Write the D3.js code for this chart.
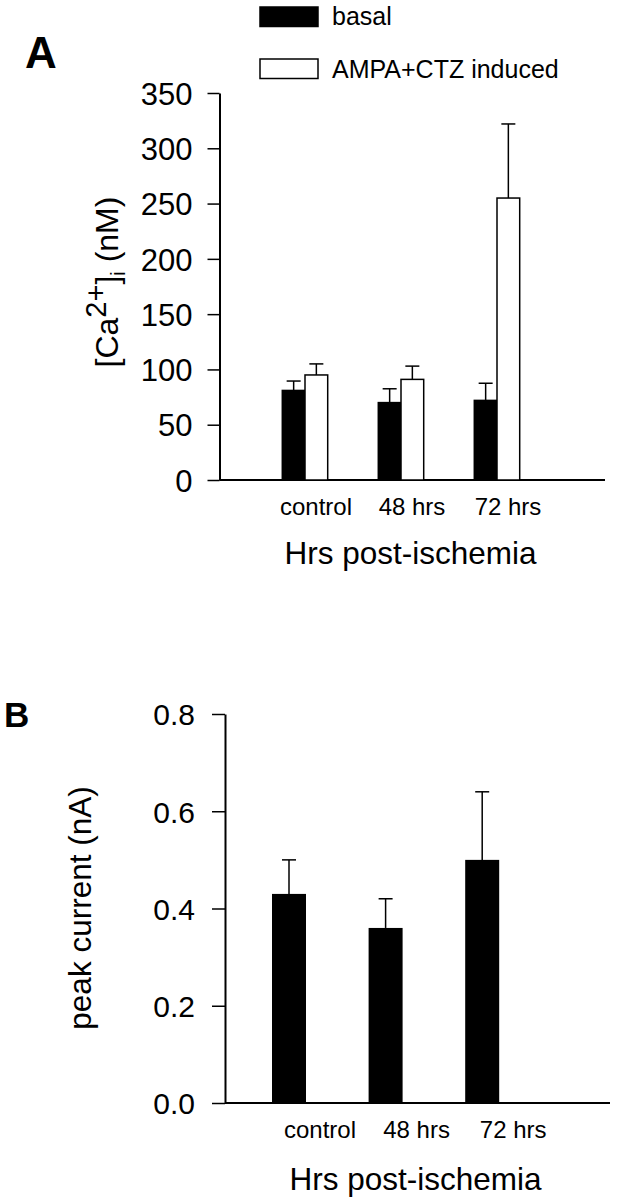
<!DOCTYPE html>
<html><head><meta charset="utf-8">
<script src="https://cdn.jsdelivr.net/npm/d3@7"></script>
<style>
html,body{margin:0;padding:0;background:#fff;}
svg{display:block;font-family:"Liberation Sans",Arial,sans-serif;}
</style></head>
<body>
<svg id="c" width="621" height="1199"></svg>
<script>
// ---- data ----
const categories = ["control", "48 hrs", "72 hrs"];
const seriesA = ["basal", "AMPA+CTZ induced"];
const basalA = [81, 70, 72];
const basalErrA = [89.5, 82.5, 87.5];
const inducedA = [95, 91, 255];
const inducedErrA = [105, 103, 322];
const ticksA = [0, 50, 100, 150, 200, 250, 300, 350];

const peakB = [0.43, 0.36, 0.50];
const peakErrB = [0.50, 0.42, 0.64];
const ticksB = [0.0, 0.2, 0.4, 0.6, 0.8];

const svg = d3.select("#c");
const F = '"Liberation Sans", Arial, sans-serif';

// ---- Panel A ----
const gA = svg.append("g");
const yA = d3.scaleLinear().domain([0, 350]).range([480, 93]);
const xA = d3.scaleBand().domain(categories).range([257, 545]);
const subA = d3.scaleBand().domain(seriesA).range([0, 45.4]);
const offA = (xA.bandwidth() - 45.4) / 2;

const axA = gA.append("g").attr("transform", "translate(219.5,0)")
  .call(d3.axisLeft(yA).tickValues(ticksA).tickSize(12).tickSizeOuter(0).tickPadding(15).tickFormat(d3.format("d")));
axA.select(".domain").attr("stroke", "#000").attr("stroke-width", 2);
axA.selectAll(".tick line").attr("stroke", "#000").attr("stroke-width", 1.5);
axA.selectAll(".tick text").attr("font-size", 31).attr("font-family", F).attr("fill", "#000").attr("dy", "0.36em");

gA.append("line").attr("x1", 219.5).attr("x2", 605).attr("y1", yA(0)).attr("y2", yA(0))
  .attr("stroke", "#000").attr("stroke-width", 2);

const rowsA = categories.map((c, i) => ({c, vals: [
  {s: seriesA[0], v: basalA[i], e: basalErrA[i], fill: "#000"},
  {s: seriesA[1], v: inducedA[i], e: inducedErrA[i], fill: "#fff"}]}));

rowsA.forEach(r => {
  r.vals.forEach(d => {
    const x0 = xA(r.c) + offA + subA(d.s);
    const w = subA.bandwidth();
    const cx = x0 + w / 2;
    gA.append("line").attr("x1", cx).attr("x2", cx).attr("y1", yA(d.v)).attr("y2", yA(d.e))
      .attr("stroke", "#000").attr("stroke-width", 1.5);
    gA.append("line").attr("x1", cx - 7).attr("x2", cx + 7).attr("y1", yA(d.e)).attr("y2", yA(d.e))
      .attr("stroke", "#000").attr("stroke-width", 1.5);
    gA.append("rect").attr("x", x0).attr("y", yA(d.v)).attr("width", w).attr("height", yA(0) - yA(d.v))
      .attr("fill", d.fill).attr("stroke", "#000").attr("stroke-width", 1.5);
  });
});

gA.selectAll("text.cat").data(categories).enter().append("text")
  .attr("x", d => xA(d) + xA.bandwidth() / 2 + 11).attr("y", 515)
  .attr("text-anchor", "middle").attr("font-size", 24).attr("font-family", F).text(d => d);

gA.append("text").attr("x", 410.5).attr("y", 564).attr("text-anchor", "middle")
  .attr("font-size", 31.5).attr("font-family", F).text("Hrs post-ischemia");

const ylA = gA.append("text").attr("transform", "translate(118,282) rotate(-90)")
  .attr("text-anchor", "middle").attr("font-size", 32).attr("font-family", F);
ylA.append("tspan").text("[Ca");
ylA.append("tspan").attr("font-size", 29).attr("dy", -12).text("2+");
ylA.append("tspan").attr("dy", 12).text("]");
ylA.append("tspan").attr("font-size", 20).attr("dy", 7).text("i");
ylA.append("tspan").attr("dy", -7).text(" (nM)");

svg.append("text").attr("x", 25).attr("y", 68).attr("font-size", 44).attr("font-weight", "bold")
  .attr("font-family", F).text("A");

// legend
const leg = svg.append("g");
const legFill = ["#000", "#fff"];
const legY = [7, 59];
const legBase = [25, 78];
seriesA.forEach((s, i) => {
  leg.append("rect").attr("x", 260).attr("y", legY[i]).attr("width", 58).attr("height", 19.5)
    .attr("fill", legFill[i]).attr("stroke", "#000").attr("stroke-width", 1.5);
  leg.append("text").attr("x", 332).attr("y", legBase[i]).attr("font-size", 25).attr("font-family", F).text(s);
});

// ---- Panel B ----
const gB = svg.append("g");
const yB = d3.scaleLinear().domain([0, 0.8]).range([1103, 714]);
const xB = d3.scaleBand().domain(categories).range([240.7, 530.5]);
const barWB = 34;

const axB = gB.append("g").attr("transform", "translate(225,0)")
  .call(d3.axisLeft(yB).tickValues(ticksB).tickSize(13).tickSizeOuter(0).tickPadding(17).tickFormat(d3.format(".1f")));
axB.select(".domain").attr("stroke", "#000").attr("stroke-width", 2);
axB.selectAll(".tick line").attr("stroke", "#000").attr("stroke-width", 1.5);
axB.selectAll(".tick text").attr("font-size", 30).attr("font-family", F).attr("fill", "#000").attr("dy", "0.36em");

gB.append("line").attr("x1", 225).attr("x2", 610).attr("y1", yB(0)).attr("y2", yB(0))
  .attr("stroke", "#000").attr("stroke-width", 2);

categories.forEach((c, i) => {
  const cx = xB(c) + xB.bandwidth() / 2;
  gB.append("line").attr("x1", cx).attr("x2", cx).attr("y1", yB(peakB[i])).attr("y2", yB(peakErrB[i]))
    .attr("stroke", "#000").attr("stroke-width", 1.5);
  gB.append("line").attr("x1", cx - 7).attr("x2", cx + 7).attr("y1", yB(peakErrB[i])).attr("y2", yB(peakErrB[i]))
    .attr("stroke", "#000").attr("stroke-width", 1.5);
  gB.append("rect").attr("x", cx - barWB / 2).attr("y", yB(peakB[i])).attr("width", barWB)
    .attr("height", yB(0) - yB(peakB[i])).attr("fill", "#000");
});

gB.selectAll("text.cat").data(categories).enter().append("text")
  .attr("x", d => xB(d) + xB.bandwidth() / 2 + 31).attr("y", 1138)
  .attr("text-anchor", "middle").attr("font-size", 24).attr("font-family", F).text(d => d);

gB.append("text").attr("x", 415.5).attr("y", 1190).attr("text-anchor", "middle")
  .attr("font-size", 31.5).attr("font-family", F).text("Hrs post-ischemia");

gB.append("text").attr("transform", "translate(90.5,908) rotate(-90)")
  .attr("text-anchor", "middle").attr("font-size", 31.5).attr("font-family", F).text("peak current (nA)");

svg.append("text").attr("x", 4).attr("y", 727).attr("font-size", 35).attr("font-weight", "bold")
  .attr("font-family", F).text("B");
</script>
</body></html>
